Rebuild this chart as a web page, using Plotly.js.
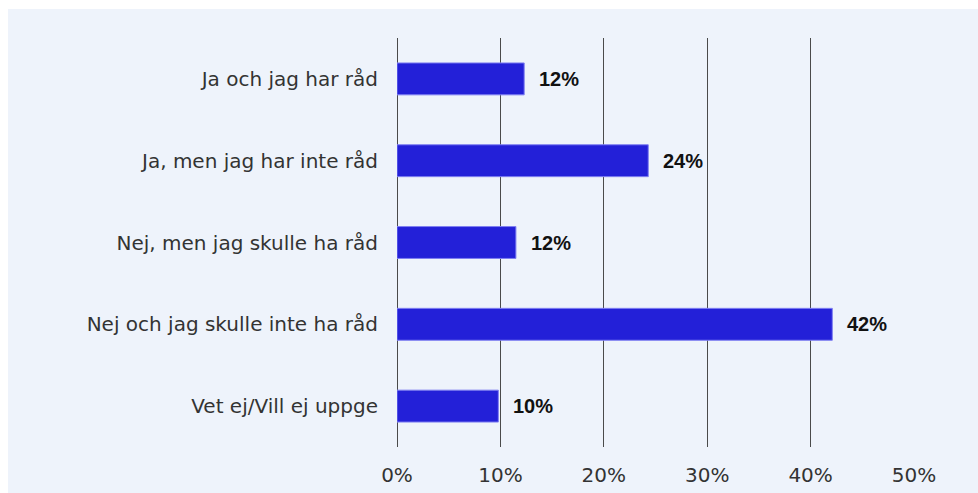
<!DOCTYPE html>
<html>
<head>
<meta charset="utf-8">
<script src="https://cdn.plot.ly/plotly-3.0.1.min.js"></script>
<style>
html,body{margin:0;padding:0;background:#ffffff;width:978px;height:493px;overflow:hidden;}
#chart{position:absolute;left:8px;top:9px;width:970px;height:484px;}
</style>
</head>
<body>
<div id="chart"></div>
<script>
const categories = ["Ja och jag har råd","Ja, men jag har inte råd","Nej, men jag skulle ha råd","Nej och jag skulle inte ha råd","Vet ej/Vill ej uppge"];
const values = [12.3, 24.3, 11.5, 42.1, 9.8];
const valueLabels = ["12%","24%","12%","42%","10%"];
const tickVals = [0,10,20,30,40,50];
const tickText = ["0%","10%","20%","30%","40%","50%"];

const FONT = "'DejaVu Sans', sans-serif";
const BOLD_FONT = "'Liberation Sans', Arial, sans-serif";

const trace = {
  type: "bar",
  orientation: "h",
  y: categories,
  x: values,
  width: 0.39,
  marker: {color: "#2320d8", line: {color: "#7f7ff2", width: 1}},
  hoverinfo: "skip"
};

const annotations = categories.map((c, i) => ({
  x: values[i], y: c, xref: "x", yref: "y",
  text: "<b>" + valueLabels[i] + "</b>",
  showarrow: false, xanchor: "left", yanchor: "middle", xshift: 13,
  font: {family: BOLD_FONT, size: 20, color: "#111111"}
}));

const layout = {
  width: 970, height: 484,
  margin: {l: 389, r: 64, t: 29, b: 46},
  paper_bgcolor: "#eef3fb",
  plot_bgcolor: "#eef3fb",
  showlegend: false,
  font: {family: FONT, size: 20, color: "#333333"},
  xaxis: {
    range: [0, 50], tickvals: tickVals, ticktext: tickText,
    showgrid: true, gridcolor: "#4a4a4a", gridwidth: 1,
    zeroline: true, zerolinecolor: "#4a4a4a", zerolinewidth: 1,
    showline: false, ticks: "", ticklabelstandoff: 14,
    tickfont: {family: FONT, size: 20, color: "#333333"},
    fixedrange: true
  },
  yaxis: {
    categoryorder: "array", categoryarray: categories, autorange: "reversed",
    showgrid: false, zeroline: false, showline: false, ticks: "",
    ticklabelstandoff: 18,
    tickfont: {family: FONT, size: 20, color: "#333333"},
    fixedrange: true
  },
  annotations: annotations
};

Plotly.newPlot("chart", [trace], layout, {displayModeBar: false, staticPlot: true});
</script>
</body>
</html>
